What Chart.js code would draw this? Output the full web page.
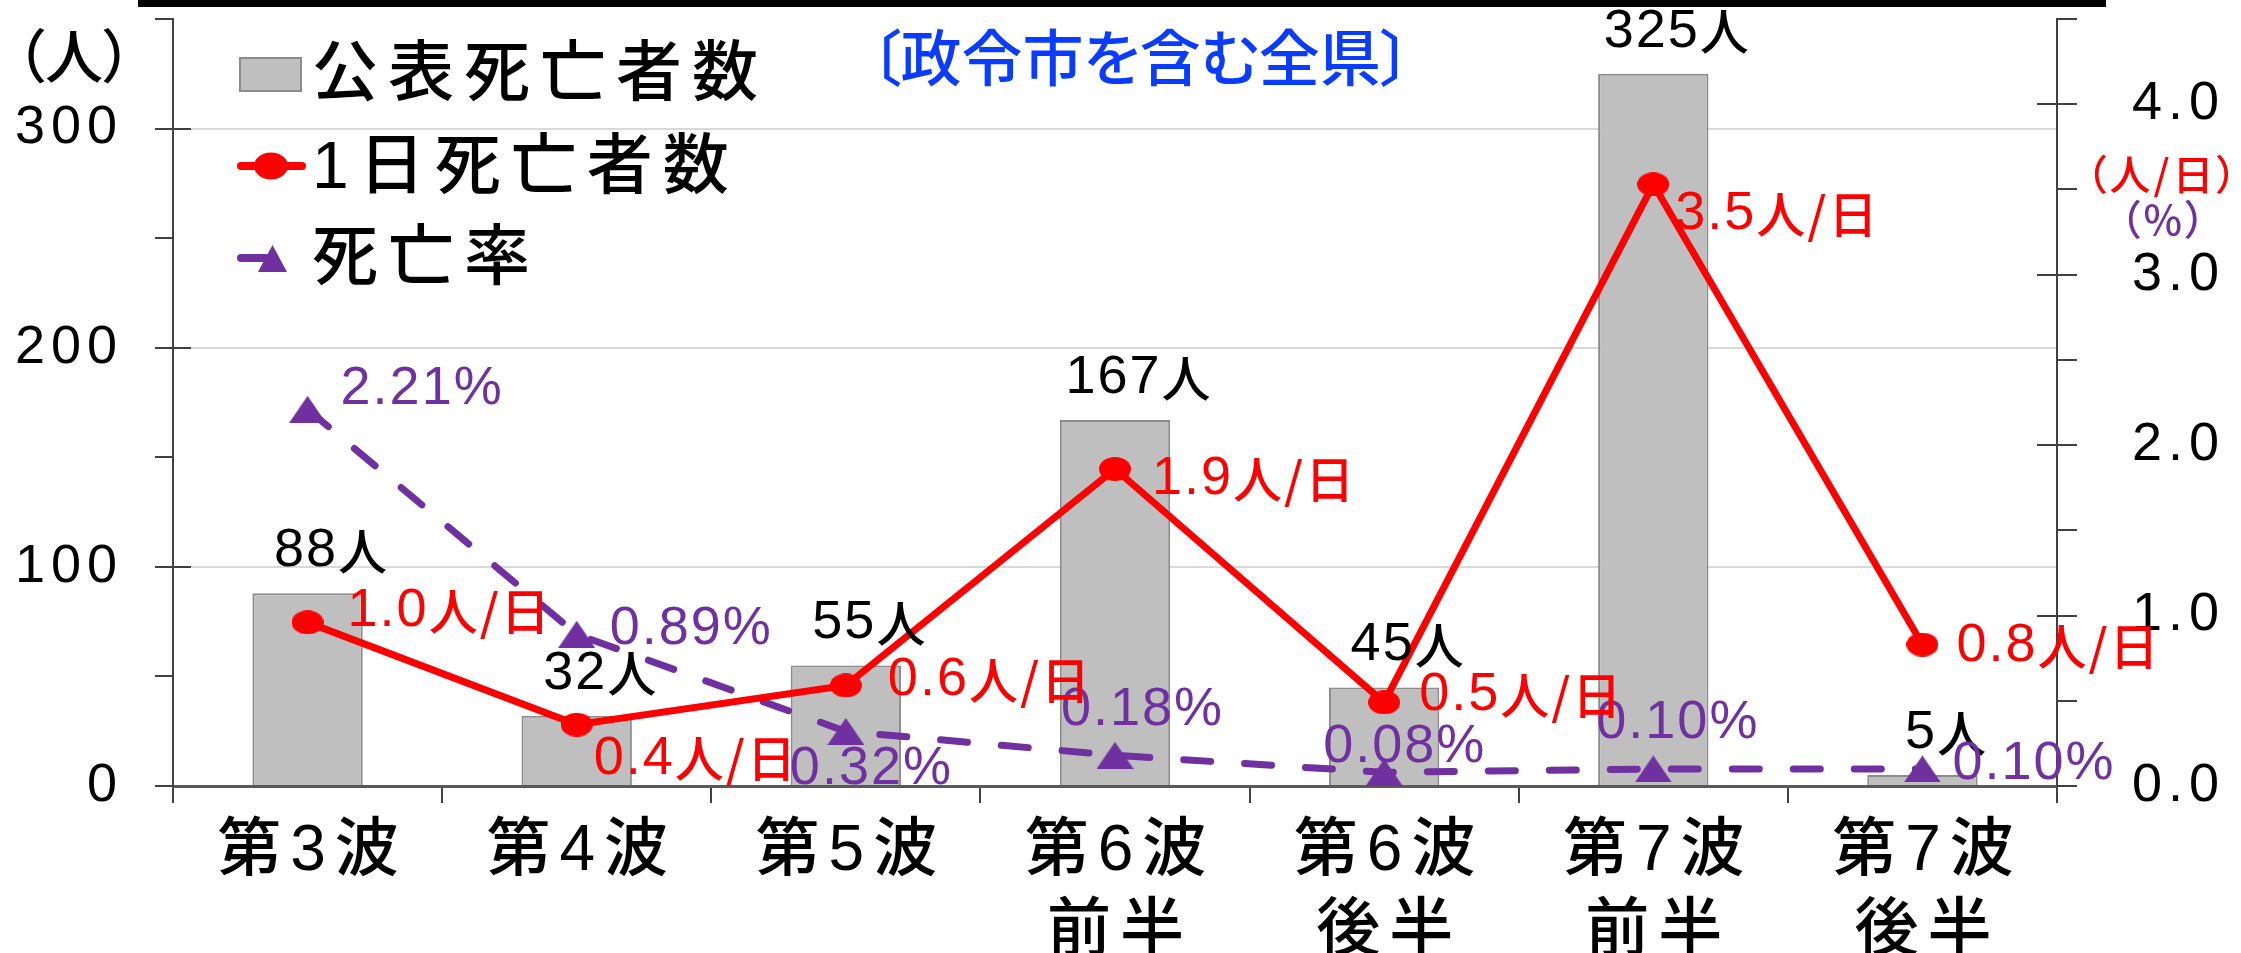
<!DOCTYPE html>
<html lang="ja">
<head>
<meta charset="utf-8">
<title>死亡者数の推移</title>
<script src="https://cdn.jsdelivr.net/npm/chart.js@4"></script>
<style>
  html, body { margin: 0; padding: 0; background: #fff; }
  #wrap { position: relative; width: 2241px; height: 953px; overflow: hidden; }
  #chart { position: absolute; left: 0; top: 0; }
  #topRule { position: absolute; left: 138px; top: 0; width: 1968px; height: 7px; background: #000; }
  .note { position: absolute; white-space: nowrap; line-height: 1; font-weight: 500;
          font-family: "Noto Sans CJK JP", sans-serif; font-feature-settings: "palt"; }
</style>
</head>
<body>
<div id="wrap">
  <canvas id="chart" width="2241" height="953"></canvas>
  <div id="topRule"></div>
  <div class="note" style="left:870px; top:24px; font-size:61px; color:#0a3cff;">〔政令市を含む全県〕</div>
  <div class="note" style="left:16px; top:24px; font-size:58px; color:#000;">（人）</div>
  <div class="note" style="left:2086px; top:152px; font-size:41px; letter-spacing:3px; color:#ff0000;">（人/日）</div>
  <div class="note" style="left:2120px; top:197px; font-size:41px; letter-spacing:3px; color:#7030a0;">（%）</div>
</div>
<script>
// data
const categories = [["第3波"], ["第4波"], ["第5波"], ["第6波", "前半"], ["第6波", "後半"], ["第7波", "前半"], ["第7波", "後半"]];
const deaths = [88, 32, 55, 167, 45, 325, 5];               // 公表死亡者数 (人)
const dailyDeaths = [0.96, 0.36, 0.59, 1.86, 0.49, 3.53, 0.83]; // 1日死亡者数 (人/日)
const deathRate = [2.21, 0.89, 0.32, 0.18, 0.08, 0.10, 0.10];   // 死亡率 (%)
const leftTicks = [0, 100, 200, 300];
const rightTicks = [0, 1, 2, 3, 4];
const seriesNames = ["公表死亡者数", "1日死亡者数", "死亡率"];

// where the value labels sit, relative to their point: [dx to text start, dy to text middle]
const dailyLabelShift = [[40, -11], [17, 34], [42, -5], [37, 10], [35, -7], [22, 30], [34, 2]];
const rateLabelShift = [[33, -20], [33, -5], [-56, 38], [-54, -45], [-61, -25], [-57, -46], [30, -5]];

const RED = "#ff0000";
const PURPLE = "#7030a0";
const BAR_FILL = "#bfbfbf";
const BAR_LINE = "#8c8c8c";
const AXIS = "#404040";
const LATIN = '"Liberation Sans", Arial, sans-serif';
const JP = '"Noto Sans CJK JP", sans-serif';
const MIX = '"Liberation Sans", "Noto Sans CJK JP", sans-serif';
const NUM_FONT = "54px " + LATIN;
const SUF_FONT = "500 49px " + JP;

// markers are a little wider than tall in the original
function makeMarker(w, h, color, shape) {
  const c = document.createElement("canvas");
  c.width = w;
  c.height = h;
  const g = c.getContext("2d");
  g.fillStyle = color;
  g.beginPath();
  if (shape === "ellipse") {
    g.ellipse(w / 2, h / 2, w / 2, h / 2, 0, 0, Math.PI * 2);
  } else {
    g.moveTo(w / 2, 0);
    g.lineTo(w, h);
    g.lineTo(0, h);
    g.closePath();
  }
  g.fill();
  return c;
}
const redDot = makeMarker(32, 24, RED, "ellipse");
const purpleTri = makeMarker(37, 27, PURPLE, "triangle");

function drawParts(ctx, parts, x, y, align) {
  const widths = parts.map(([t, f]) => { ctx.font = f; return ctx.measureText(t).width; });
  let cx = align === "center" ? x - widths.reduce((s, w) => s + w, 0) / 2 : x;
  parts.forEach(([t, f, c], i) => {
    ctx.font = f;
    ctx.fillStyle = c;
    ctx.fillText(t, cx, y);
    cx += widths[i];
  });
}

const drawExtras = {
  id: "drawExtras",
  beforeDraw(chart) {
    chart.ctx.letterSpacing = "6px"; // tick labels
  },
  beforeDatasetsDraw(chart) {
    const ctx = chart.ctx;
    ctx.letterSpacing = "0px";
    const a = chart.chartArea;
    const y = chart.scales.y;
    const y2 = chart.scales.y2;
    // major ticks also reach into the plot
    ctx.save();
    ctx.strokeStyle = AXIS;
    ctx.lineWidth = 2;
    ctx.beginPath();
    leftTicks.slice(1).forEach((v) => {
      const p = Math.round(y.getPixelForValue(v));
      ctx.moveTo(a.left, p);
      ctx.lineTo(a.left + 18, p);
    });
    rightTicks.slice(1).forEach((v) => {
      const p = Math.round(y2.getPixelForValue(v));
      ctx.moveTo(a.right - 20, p);
      ctx.lineTo(a.right, p);
    });
    ctx.stroke();
    ctx.restore();
  },
  afterDatasetsDraw(chart) {
    const ctx = chart.ctx;
    ctx.save();
    ctx.letterSpacing = "2px";
    ctx.textAlign = "left";
    ctx.textBaseline = "middle";
    chart.getDatasetMeta(0).data.forEach((bar, i) => {
      drawParts(ctx, [[String(deaths[i]), NUM_FONT, "#000"], ["人", SUF_FONT, "#000"]], bar.x + 24, bar.y - 42, "center");
    });
    chart.getDatasetMeta(2).data.forEach((pt, i) => {
      const [dx, dy] = rateLabelShift[i];
      drawParts(ctx, [[deathRate[i].toFixed(2) + "%", NUM_FONT, PURPLE]], pt.x + dx, pt.y + dy, "left");
    });
    chart.getDatasetMeta(1).data.forEach((pt, i) => {
      const [dx, dy] = dailyLabelShift[i];
      drawParts(ctx, [[dailyDeaths[i].toFixed(1), NUM_FONT, RED], ["人/日", SUF_FONT, RED]], pt.x + dx, pt.y + dy, "left");
    });
    ctx.restore();
  },
  afterDraw(chart) {
    const ctx = chart.ctx;
    const xs = chart.scales.x;
    ctx.save();
    // category labels, spaced out like the original
    ctx.letterSpacing = "9px";
    ctx.font = "500 64px " + MIX;
    ctx.fillStyle = "#000";
    ctx.textAlign = "center";
    ctx.textBaseline = "middle";
    categories.forEach((lab, i) => {
      const x = xs.getPixelForValue(i) + 5;
      lab.forEach((t, j) => ctx.fillText(t, x, 852 + j * 80));
    });

    // legend
    const ds = chart.data.datasets;
    ctx.fillStyle = ds[0].backgroundColor;
    ctx.fillRect(240, 58, 61, 33);
    ctx.strokeStyle = ds[0].borderColor;
    ctx.lineWidth = 2;
    ctx.strokeRect(240, 58, 61, 33);

    ctx.lineCap = "round";
    ctx.lineWidth = 8;
    ctx.strokeStyle = ds[1].borderColor;
    ctx.beginPath();
    ctx.moveTo(241, 166);
    ctx.lineTo(302, 166);
    ctx.stroke();
    ctx.fillStyle = ds[1].borderColor;
    ctx.beginPath();
    ctx.ellipse(271, 166, 17, 13.5, 0, 0, Math.PI * 2);
    ctx.fill();

    ctx.strokeStyle = ds[2].borderColor;
    ctx.beginPath();
    ctx.moveTo(241, 258);
    ctx.lineTo(266, 258);
    ctx.stroke();
    ctx.fillStyle = ds[2].borderColor;
    ctx.beginPath();
    ctx.moveTo(272.5, 245);
    ctx.lineTo(287, 272);
    ctx.lineTo(258, 272);
    ctx.closePath();
    ctx.fill();

    ctx.letterSpacing = "10px";
    ctx.font = "500 66px " + MIX;
    ctx.fillStyle = "#000";
    ctx.textAlign = "left";
    [77, 170, 261].forEach((ty, i) => ctx.fillText(ds[i].label, 312, ty));
    ctx.restore();
  }
};

new Chart(document.getElementById("chart"), {
  data: {
    labels: categories,
    datasets: [
      {
        type: "bar",
        label: seriesNames[0],
        data: deaths,
        yAxisID: "y",
        backgroundColor: BAR_FILL,
        borderColor: BAR_LINE,
        borderWidth: 2,
        barPercentage: 0.41,
        categoryPercentage: 1,
        order: 3
      },
      {
        type: "line",
        label: seriesNames[1],
        data: dailyDeaths,
        yAxisID: "y2",
        borderColor: RED,
        borderWidth: 7,
        pointStyle: redDot,
        pointRadius: 12,
        order: 1
      },
      {
        type: "line",
        label: seriesNames[2],
        data: deathRate,
        yAxisID: "y2",
        borderColor: PURPLE,
        borderWidth: 7,
        borderDash: [27, 34],
        borderCapStyle: "round",
        pointStyle: purpleTri,
        pointRadius: 12,
        order: 2
      }
    ]
  },
  options: {
    responsive: false,
    animation: false,
    devicePixelRatio: 1,
    layout: { padding: { top: 15, left: 0, right: 0, bottom: 0 } },
    plugins: { legend: { display: false }, tooltip: { enabled: false } },
    scales: {
      x: {
        offset: true,
        grid: { offset: true, drawOnChartArea: false, color: AXIS, lineWidth: 2, tickLength: 17 },
        border: { color: "#595959", width: 3 },
        ticks: { display: false },
        afterFit: (s) => { s.height = 167; s.paddingLeft = 0; s.paddingRight = 0; }
      },
      y: {
        position: "left",
        min: 0,
        max: 350,
        ticks: {
          stepSize: 50,
          autoSkip: false,
          padding: 32,
          color: "#000",
          font: { family: LATIN, size: 54 },
          callback: (v) => (leftTicks.includes(v) ? String(v) : "")
        },
        grid: {
          color: (c) => (c.tick && c.tick.value > 0 && leftTicks.includes(c.tick.value) ? "#d9d9d9" : "rgba(0,0,0,0)"),
          tickColor: AXIS,
          lineWidth: 2,
          tickWidth: 2,
          tickLength: 18
        },
        border: { color: AXIS, width: 2 },
        afterFit: (s) => { s.width = 173; s.paddingTop = 0; s.paddingBottom = 0; }
      },
      y2: {
        position: "right",
        min: 0,
        max: 4.5,
        ticks: {
          stepSize: 0.5,
          autoSkip: false,
          padding: 55,
          color: "#000",
          font: { family: LATIN, size: 54 },
          callback: (v) => (rightTicks.includes(v) ? v.toFixed(1) : "")
        },
        grid: { drawOnChartArea: false, color: AXIS, lineWidth: 2, tickLength: 20 },
        border: { color: AXIS, width: 2 },
        afterFit: (s) => { s.width = 184; s.paddingTop = 0; s.paddingBottom = 0; }
      }
    }
  },
  plugins: [drawExtras]
});
</script>
</body>
</html>
